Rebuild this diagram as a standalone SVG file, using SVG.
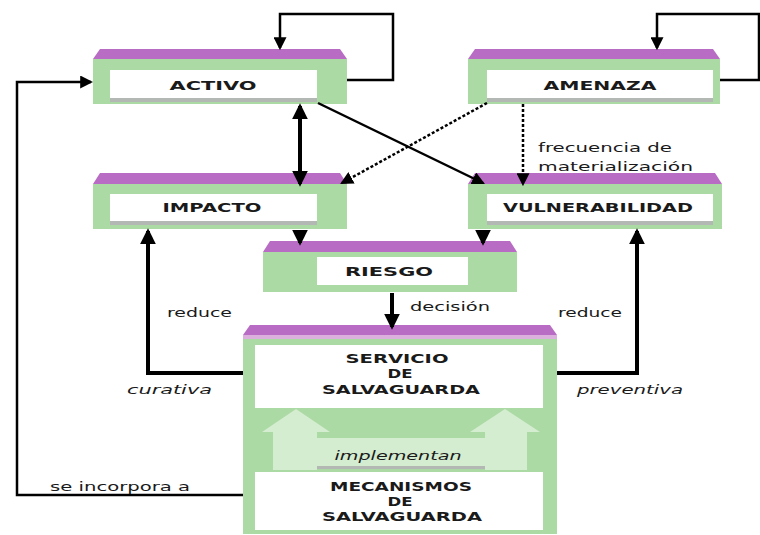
<svg xmlns="http://www.w3.org/2000/svg" width="760" height="535" viewBox="0 0 760 535">
<defs>
<style>
.top{fill:#b86cc4}
.pink{fill:#dcb0dc}
.body{fill:#acdaa4}
.inner{fill:#ffffff}
.shadow{fill:#b4b8b4}
.lbl{font-family:"DejaVu Sans","Liberation Sans",sans-serif;font-weight:bold;font-size:13px;fill:#1a1a1a;text-anchor:middle;dominant-baseline:central}
.txt{font-family:"DejaVu Sans","Liberation Sans",sans-serif;font-size:13px;fill:#1a1a1a;dominant-baseline:central}
.it{font-style:italic}
.thick{fill:none;stroke:#000;stroke-width:4}
.mid{fill:none;stroke:#000;stroke-width:2.5}
.dot{fill:none;stroke:#000;stroke-width:2.5;stroke-dasharray:3 2}
.fade{fill:#d4ecd0}
</style>
<marker id="ah" viewBox="0 0 12 12" refX="10" refY="6" markerWidth="16" markerHeight="16" markerUnits="userSpaceOnUse" orient="auto-start-reverse">
<path d="M0,0 L12,6 L0,12 z" fill="#000"/>
</marker>
<marker id="ahs" viewBox="0 0 12 12" refX="10" refY="6" markerWidth="13" markerHeight="13" markerUnits="userSpaceOnUse" orient="auto-start-reverse">
<path d="M0,0 L12,6 L0,12 z" fill="#000"/>
</marker>
</defs>
<rect width="760" height="535" fill="#ffffff"/>

<g id="activo">
<polygon class="top" points="100,49 340,49 347,59 93,59"/>
<rect class="body" x="93" y="59" width="254" height="45"/>
<rect class="shadow" x="110" y="97" width="207" height="5"/>
<rect class="inner" x="110" y="70" width="207" height="28"/>
<text class="lbl" x="213" y="85" textLength="87" lengthAdjust="spacingAndGlyphs">ACTIVO</text>
</g>

<g id="amenaza">
<polygon class="top" points="475,49 713,49 720,59 468,59"/>
<rect class="body" x="468" y="59" width="252" height="45"/>
<rect class="shadow" x="487" y="97" width="226" height="5"/>
<rect class="inner" x="487" y="70" width="226" height="28"/>
<text class="lbl" x="600" y="85" textLength="113" lengthAdjust="spacingAndGlyphs">AMENAZA</text>
</g>

<g id="impacto">
<polygon class="top" points="100,173 340,173 347,184 93,184"/>
<rect class="body" x="93" y="184" width="254" height="45"/>
<rect class="shadow" x="110" y="220" width="207" height="5"/>
<rect class="inner" x="110" y="194" width="207" height="27"/>
<text class="lbl" x="212" y="207" textLength="99" lengthAdjust="spacingAndGlyphs">IMPACTO</text>
</g>

<g id="vulnerabilidad">
<polygon class="top" points="475,173 715,173 722,184 468,184"/>
<rect class="body" x="468" y="184" width="254" height="45"/>
<rect class="shadow" x="487" y="220" width="226" height="5"/>
<rect class="inner" x="487" y="194" width="226" height="27"/>
<text class="lbl" x="598" y="207" textLength="190" lengthAdjust="spacingAndGlyphs">VULNERABILIDAD</text>
</g>

<g id="riesgo">
<polygon class="top" points="270,241 510,241 517,252 263,252"/>
<rect class="body" x="263" y="252" width="254" height="40"/>
<rect class="inner" x="317" y="257" width="151" height="28"/>
<text class="lbl" x="389" y="271" textLength="88" lengthAdjust="spacingAndGlyphs">RIESGO</text>
</g>

<g id="servicio">
<polygon class="top" points="250,325 550,325 557,335 243,335"/>
<rect class="pink" x="243" y="335" width="314" height="4"/>
<rect class="body" x="243" y="339" width="314" height="195"/>
<rect class="inner" x="255" y="345" width="288" height="63"/>
<text class="lbl" x="397" y="358" textLength="103" lengthAdjust="spacingAndGlyphs">SERVICIO</text>
<text class="lbl" x="400" y="373" textLength="25" lengthAdjust="spacingAndGlyphs">DE</text>
<text class="lbl" x="401" y="389" textLength="158" lengthAdjust="spacingAndGlyphs">SALVAGUARDA</text>
<polygon class="fade" points="296,409 330,432 317,432 317,470 273,470 273,432 262,432"/>
<polygon class="fade" points="505,409 540,432 527,432 527,470 485,470 485,432 470,432"/>
<rect class="fade" x="317" y="438" width="168" height="30"/>
<rect class="shadow" x="317" y="466" width="168" height="3"/>
<text class="txt it" x="398" y="455" text-anchor="middle" textLength="127" lengthAdjust="spacingAndGlyphs">implementan</text>
</g>

<g id="mecanismos">
<rect class="inner" x="255" y="472" width="288" height="58"/>
<text class="lbl" x="401" y="486" textLength="142" lengthAdjust="spacingAndGlyphs">MECANISMOS</text>
<text class="lbl" x="400" y="501" textLength="25" lengthAdjust="spacingAndGlyphs">DE</text>
<text class="lbl" x="402" y="516" textLength="160" lengthAdjust="spacingAndGlyphs">SALVAGUARDA</text>
</g>

<g id="connectors">
<path class="mid" d="M347,80 H393 V14 H280 V48" marker-end="url(#ahs)"/>
<path class="mid" d="M720,80 H759 V14 H657 V48" marker-end="url(#ahs)"/>
<path class="mid" d="M243,495 H17 V82 H91" marker-end="url(#ahs)"/>
<path class="thick" d="M300,106 V184" marker-start="url(#ah)" marker-end="url(#ah)"/>
<path class="mid" d="M318,103 L483,183" marker-end="url(#ahs)"/>
<path class="dot" d="M487,103 L342,183" marker-end="url(#ahs)"/>
<path class="dot" d="M523,104 V184" marker-end="url(#ahs)"/>
<path class="thick" d="M300,230 V243" marker-end="url(#ah)"/>
<path class="thick" d="M483,230 V243" marker-end="url(#ah)"/>
<path class="thick" d="M392,293 V327" marker-end="url(#ah)"/>
<path class="thick" d="M243,373 H148 V231" marker-end="url(#ah)"/>
<path class="thick" d="M557,373 H637 V231" marker-end="url(#ah)"/>
</g>

<g id="labels">
<text class="txt" x="538" y="147" textLength="134" lengthAdjust="spacingAndGlyphs">frecuencia de</text>
<text class="txt" x="538" y="166" textLength="155" lengthAdjust="spacingAndGlyphs">materialización</text>
<text class="txt" x="410" y="306" textLength="80" lengthAdjust="spacingAndGlyphs">decisión</text>
<text class="txt" x="167" y="312" textLength="65" lengthAdjust="spacingAndGlyphs">reduce</text>
<text class="txt" x="558" y="312" textLength="64" lengthAdjust="spacingAndGlyphs">reduce</text>
<text class="txt it" x="127" y="389" textLength="85" lengthAdjust="spacingAndGlyphs">curativa</text>
<text class="txt it" x="577" y="389" textLength="106" lengthAdjust="spacingAndGlyphs">preventiva</text>
<text class="txt" x="50" y="486" textLength="140" lengthAdjust="spacingAndGlyphs">se incorpora a</text>
</g>
</svg>
